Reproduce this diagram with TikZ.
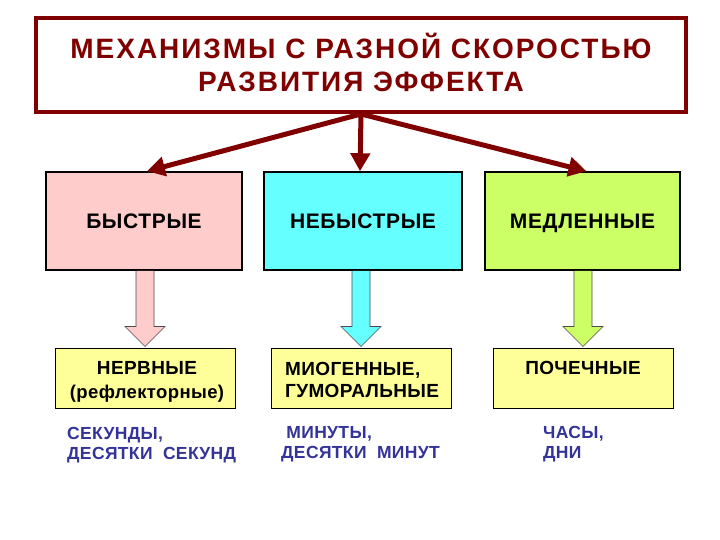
\documentclass[tikz,border=0pt]{standalone}
\usepackage{fontspec}
\setmainfont{Liberation Sans}
\usetikzlibrary{arrows.meta,calc}
\definecolor{darkred}{HTML}{800000}
\definecolor{pinkf}{HTML}{FFCCCC}
\definecolor{cyanf}{HTML}{66FFFF}
\definecolor{greenf}{HTML}{CCFF66}
\definecolor{yellowf}{HTML}{FFFF99}
\definecolor{navy}{HTML}{333399}
\tikzset{
  titlebox/.style={draw=darkred, line width=4pt, fill=white, minimum width=650pt, minimum height=94pt, inner sep=0pt},
  titletext/.style={text=darkred, font=\fontsize{28}{33}\selectfont\bfseries\addfontfeature{LetterSpace=7}, align=center, inner sep=0pt},
  upperbox/.style={draw=black, line width=1.5pt, minimum height=98pt, inner sep=0pt, text height=15pt, text depth=0pt, font=\fontsize{21}{25}\selectfont\bfseries\addfontfeature{LetterSpace=3}},
  lowerbox/.style={draw=black, line width=1pt, fill=yellowf, minimum width=180pt, minimum height=60pt, inner sep=0pt},
  lowertext/.style={font=\fontsize{19}{22}\selectfont\bfseries\addfontfeature{LetterSpace=2}, inner sep=0pt},
  timetext/.style={text=navy, font=\fontsize{17.5}{20}\selectfont\bfseries\addfontfeature{LetterSpace=2}, align=left, inner sep=0pt, anchor=north west},
  redarrow/.style={draw=darkred, line width=5pt, -{Triangle[length=18pt,width=19pt]}},
  blockarrow/.style={draw=black!70, line width=0.6pt}
}
\begin{document}
\begin{tikzpicture}[x=1pt,y=-1pt]
\useasboundingbox (0,0) rectangle (720,540);
\fill[white] (0,0) rectangle (720,540);

% title
\node[titlebox] (title) at (361,65) {};
\node[titletext] (titletxt) at (361,62) {МЕХАНИЗМЫ С РАЗНОЙ СКОРОСТЬЮ\\РАЗВИТИЯ ЭФФЕКТА};

% upper boxes
\node[upperbox, fill=pinkf, minimum width=196pt] (b1) at (144,221) {БЫСТРЫЕ};
\node[upperbox, fill=cyanf, minimum width=198pt] (b2) at (363,221) {НЕБЫСТРЫЕ};
\node[upperbox, fill=greenf, minimum width=195pt] (b3) at (582.5,221) {МЕДЛЕННЫЕ};

% red connectors
\draw[redarrow] (title.south) -- ($(b1.north)+(3,0)$);
\draw[redarrow] (title.south) -- ($(b2.north)+(-3,0)$);
\draw[redarrow] (title.south) -- ($(b3.north)+(4,0)$);

% lower boxes
\node[lowerbox] (n1) at (145,378) {};
\node[lowerbox] (n2) at (361,378) {};
\node[lowerbox] (n3) at (583,378) {};

\node[lowertext, align=center] (l1) at (147,382) {НЕРВНЫЕ\\[2pt]{\fontsize{18.5}{20}\selectfont(рефлекторные)}};
\node[lowertext, align=left, anchor=west] (l2) at (285,380) {МИОГЕННЫЕ,\\ГУМОРАЛЬНЫЕ};
\node[lowertext] (l3) at (583,368) {ПОЧЕЧНЫЕ};

% block arrows
\foreach \up/\down/\col in {b1/n1/pinkf, b2/n2/cyanf, b3/n3/greenf}{
  \draw[blockarrow, fill=\col] let \p1=(\up.south), \p2=(\down.north) in
    (\x2-9pt,\y1) -- (\x2-9pt,\y2+21pt) -- (\x2-20pt,\y2+21pt)
    -- (\x2,\y2+1pt) -- (\x2+20pt,\y2+21pt) -- (\x2+9pt,\y2+21pt)
    -- (\x2+9pt,\y1);
}

% time texts
\node[timetext] (tm1) at (67,427) {СЕКУНДЫ,\\ДЕСЯТКИ\ \ СЕКУНД};
\node[timetext] (tm2) at (281,426) {\ МИНУТЫ,\\ДЕСЯТКИ\ \ МИНУТ};
\node[timetext] (tm3) at (543,426) {ЧАСЫ,\\ДНИ};
\end{tikzpicture}
\end{document}
